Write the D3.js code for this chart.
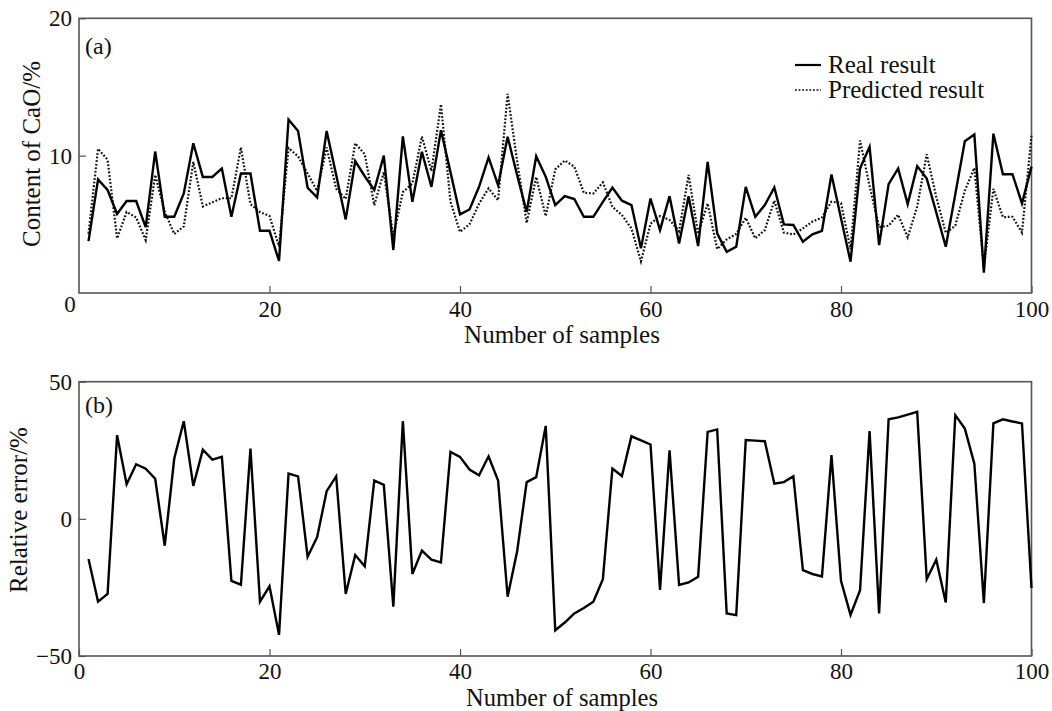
<!DOCTYPE html>
<html>
<head>
<meta charset="utf-8">
<script src="https://cdn.jsdelivr.net/npm/d3@7"></script>
<style>
	body { margin: 0; background: #fff; }
	text { font-family: "Liberation Serif", "Times New Roman", serif; fill: #111; }
</style>
</head>
<body>
<svg width="1052" height="711"></svg>
<script>
const realResult = [
	3.78, 8.27, 7.5, 5.75, 6.7, 6.7, 4.8, 10.3, 5.55, 5.55,
	7.25, 10.9, 8.45, 8.45, 9.07, 5.55, 8.7, 8.7, 4.53, 4.53,
	2.33, 12.63, 11.8, 7.66, 6.96, 11.8, 8.6, 5.36, 9.6, 8.5,
	7.5, 10.0, 3.13, 11.4, 6.64, 10.28, 7.73, 11.85, 8.8, 5.72,
	6.08, 7.73, 9.87, 7.85, 11.37, 8.58, 5.9, 9.96, 8.46, 6.4,
	7.05, 6.84, 5.55, 5.55, 6.64, 7.68, 6.72, 6.4, 3.25, 6.88,
	4.58, 7.05, 3.6, 7.05, 3.42, 9.55, 4.34, 3.0, 3.37, 7.73,
	5.55, 6.4, 7.68, 5.0, 4.95, 3.73, 4.27, 4.53, 8.63, 5.45,
	2.28, 9.07, 10.64, 3.49, 7.93, 9.07, 6.47, 9.24, 8.34, 5.87,
	3.37, 7.2, 11.05, 11.54, 1.48, 11.6, 8.65, 8.65, 6.52, 9.2
];
const predictedResult = [
	4.33, 10.5, 9.7, 3.98, 5.9, 5.5, 3.85, 8.6, 5.9, 4.3,
	4.85, 9.55, 6.3, 6.6, 6.9, 6.9, 10.6, 6.47, 5.9, 5.6,
	3.4, 10.55, 9.95, 8.7, 7.43, 10.6, 7.6, 6.85, 10.9, 10.1,
	6.4, 8.8, 4.13, 7.34, 7.97, 11.4, 8.88, 13.74, 6.65, 4.45,
	5.0, 6.5, 7.62, 6.75, 14.5, 9.6, 5.1, 8.45, 5.6, 9.0,
	9.65, 9.2, 7.3, 7.25, 8.05, 6.27, 5.67, 4.7, 2.3, 5.05,
	5.6, 5.32, 4.5, 8.6, 4.3, 6.52, 3.2, 3.9, 4.3, 5.47,
	3.98, 4.58, 6.73, 4.4, 4.26, 4.7, 5.2, 5.5, 6.65, 6.55,
	3.2, 11.1, 7.8, 4.8, 4.9, 5.7, 4.05, 6.3, 10.1, 7.0,
	4.37, 4.9, 7.45, 9.1, 1.9, 7.58, 5.52, 5.55, 4.4, 11.45
];
const relativeError = [
	-14.6, -30.2, -27.4, 30.5, 12.6, 19.9, 18.3, 14.6, -9.8, 22,
	35.6, 12, 25.2, 21.6, 22.6, -22.6, -24, 25.6, -30.2, -24.6,
	-42.3, 16.5, 15.5, -13.8, -6.7, 10.1, 15.5, -27.4, -13.2, -17.3,
	14, 12.4, -32, 35.6, -20.1, -11.6, -14.9, -15.9, 24.4, 22.6,
	18, 15.9, 22.8, 14, -28.4, -11.8, 13.4, 15.2, 33.9, -40.6,
	-37.8, -34.5, -32.5, -30.2, -22, 18.3, 15.6, 30.1, 28.6, 27.1,
	-25.9, 25, -24.1, -23.2, -21.1, 31.7, 32.6, -34.5, -35.1, 28.7,
	28.5, 28.3, 12.8, 13.4, 15.5, -18.7, -20.1, -21, 23.2, -22.6,
	-35, -26, 32, -34.5, 36.3, 37, 38, 39, -22, -14.9,
	-30.5, 37.8, 32.9, 20.1, -30.7, 34.8, 36.3, 35.5, 34.8, -25.2
];
const xTicksTop = [20, 40, 60, 80, 100];
const xTicksBottom = [0, 20, 40, 60, 80, 100];
const yTicksTop = [10, 20];
const yTicksBottom = [-50, 0, 50];

const left = 79, right = 1031.5;
const frameColor = "#555";

const svg = d3.select("svg");

const x = d3.scaleLinear().domain([0, 100]).range([left, right]);
const yTop = d3.scaleLinear().domain([0, 20]).range([293, 18.3]);
const yBot = d3.scaleLinear().domain([-50, 50]).range([656, 381.7]);

function panel(y, xTicks, yTicks, xPad) {
	const g = svg.append("g");
	const [y0, y1] = y.range();

	g.append("g")
		.attr("transform", `translate(0,${y0})`)
		.call(d3.axisBottom(x).tickValues(xTicks).tickSizeInner(-7).tickSizeOuter(0).tickPadding(xPad))
		.call(a => a.select(".domain").remove());

	g.append("g")
		.attr("transform", `translate(${left},0)`)
		.call(d3.axisLeft(y).tickValues(yTicks).tickSizeInner(-7).tickSizeOuter(0).tickPadding(7))
		.call(a => a.select(".domain").remove());

	g.selectAll(".tick line").attr("stroke", frameColor).attr("stroke-width", 1.2);
	g.selectAll(".tick text")
		.attr("font-size", 23)
		.attr("font-family", "Liberation Serif")
		.attr("fill", "#111");

	g.append("rect")
		.attr("x", left)
		.attr("y", y1)
		.attr("width", right - left)
		.attr("height", y0 - y1)
		.attr("fill", "none")
		.attr("stroke", frameColor)
		.attr("stroke-width", 1.6);
	return g;
}

const panelA = panel(yTop, xTicksTop, yTicksTop, 8);
const panelB = panel(yBot, xTicksBottom, yTicksBottom, 7);

const lineTop = d3.line().x((d, i) => x(i + 1)).y(d => yTop(d));
const lineBot = d3.line().x((d, i) => x(i + 1)).y(d => yBot(d));

panelA.append("path")
	.datum(predictedResult)
	.attr("fill", "none")
	.attr("stroke", "#111")
	.attr("stroke-width", 2.2)
	.attr("stroke-dasharray", "1.8,1.8")
	.attr("d", lineTop);

panelA.append("path")
	.datum(realResult)
	.attr("fill", "none")
	.attr("stroke", "#000")
	.attr("stroke-width", 2.4)
	.attr("d", lineTop);

panelB.append("path")
	.datum(relativeError)
	.attr("fill", "none")
	.attr("stroke", "#000")
	.attr("stroke-width", 2.4)
	.attr("d", lineBot);

// shared origin label of the top panel
panelA.append("text")
	.attr("x", 70)
	.attr("y", 312)
	.attr("text-anchor", "middle")
	.attr("font-size", 23)
	.text("0");

panelA.append("text").attr("x", 85).attr("y", 54).attr("font-size", 24).text("(a)");
panelB.append("text").attr("x", 85).attr("y", 413).attr("font-size", 24).text("(b)");

panelA.append("text")
	.attr("x", 562)
	.attr("y", 343)
	.attr("text-anchor", "middle")
	.attr("font-size", 25)
	.text("Number of samples");

panelB.append("text")
	.attr("x", 562)
	.attr("y", 706)
	.attr("text-anchor", "middle")
	.attr("font-size", 24.5)
	.text("Number of samples");

panelA.append("text")
	.attr("transform", "translate(40,154) rotate(-90)")
	.attr("text-anchor", "middle")
	.attr("font-size", 25)
	.text("Content of CaO/%");

panelB.append("text")
	.attr("transform", "translate(27,510) rotate(-90)")
	.attr("text-anchor", "middle")
	.attr("font-size", 25)
	.text("Relative error/%");

const legend = panelA.append("g").attr("transform", "translate(795,0)");
const legendItems = [
	{ name: "Real result", dash: null, y: 65 },
	{ name: "Predicted result", dash: "1.8,1.8", y: 90 }
];
legendItems.forEach(item => {
	legend.append("line")
		.attr("x1", 0).attr("x2", 26)
		.attr("y1", item.y).attr("y2", item.y)
		.attr("stroke", "#000")
		.attr("stroke-width", item.dash ? 1.6 : 2.2)
		.attr("stroke-dasharray", item.dash);
	legend.append("text")
		.attr("x", 33)
		.attr("y", item.y + 8)
		.attr("font-size", 25)
		.text(item.name);
});
</script>
</body>
</html>
